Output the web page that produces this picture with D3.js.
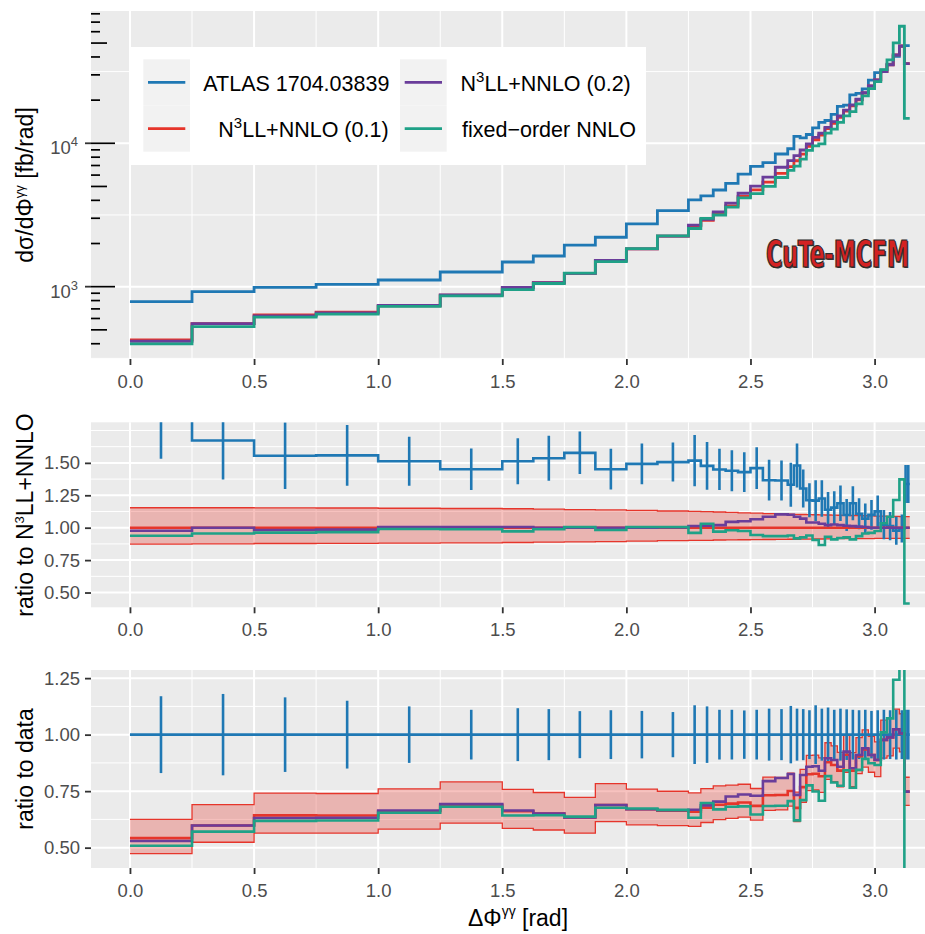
<!DOCTYPE html>
<html>
<head>
<meta charset="utf-8">
<script src="https://cdn.jsdelivr.net/npm/d3@7"></script>
<style>
  body { margin: 0; background: #fff; }
  svg { display: block; font-family: "Liberation Sans", Arial, sans-serif; }
</style>
</head>
<body>
<svg id="chart" width="925" height="934"></svg>
<script>
// Bin edges of the measurement (rad)
const edges = [0, 0.25, 0.5, 0.75, 1.0, 1.25, 1.5, 1.625, 1.75, 1.875, 2.0, 2.125, 2.25,
  2.3, 2.35, 2.4, 2.45, 2.5, 2.55, 2.6, 2.65,
  2.675, 2.7, 2.725, 2.75, 2.775, 2.8, 2.825, 2.85, 2.875, 2.9, 2.925, 2.95, 2.975, 3.0,
  3.025, 3.05, 3.075, 3.1, 3.12, 3.13, 3.1416];

// ATLAS data, fb/rad, and its relative uncertainty
const atlas = [786, 923, 990, 1036, 1113, 1266, 1486, 1636, 1950, 2211, 2737, 3388,
  4024, 4291, 4722, 5259, 6100, 6900, 7320, 8420,
  9160, 11180, 10925, 11520, 12800, 13980, 14420, 15930, 18070, 18440, 21730, 22280,
  23980, 27580, 31130, 32340, 35600, 40330, 47420, 48000, 48000];
const atlasErr = [0.17, 0.18, 0.165, 0.15, 0.125, 0.11, 0.117, 0.113, 0.104, 0.108, 0.105, 0.10,
  0.13, 0.125, 0.11, 0.11, 0.107, 0.11, 0.115, 0.113,
  0.127, 0.115, 0.113, 0.108, 0.13, 0.115, 0.12, 0.11, 0.115, 0.112, 0.11, 0.108,
  0.11, 0.105, 0.108, 0.11, 0.108, 0.11, 0.108, 0.11, 0.11];

// N3LL+NNLO (0.1) divided by data
const n3ll01ToData = [0.542, 0.598, 0.643, 0.642, 0.661, 0.689, 0.661, 0.651, 0.634, 0.689, 0.670, 0.664,
  0.659, 0.677, 0.690, 0.695, 0.700, 0.685, 0.732, 0.733,
  0.751, 0.676, 0.768, 0.825, 0.827, 0.816, 0.878, 0.866, 0.841, 0.911, 0.841, 0.903,
  0.935, 0.910, 0.888, 0.977, 0.988, 1.024, 1.006, 0.748, 0.748];

// other predictions divided by N3LL+NNLO (0.1)
const n3ll02ToN3ll = [0.977, 1.0, 0.982, 0.985, 1.005, 1.005, 1.005, 1.0, 1.0, 1.0, 1.0, 1.002,
  1.013, 1.015, 1.02, 1.045, 1.05, 1.065, 1.085, 1.103,
  1.10, 1.085, 1.07, 1.04, 1.04, 1.03, 1.02, 1.025, 1.02, 1.015, 1.012, 1.008,
  1.005, 1.0, 1.0, 1.0, 1.0, 1.0, 1.0, 1.0, 1.0];
const nnloToN3ll = [0.938, 0.955, 0.962, 0.966, 0.99, 0.988, 0.972, 0.988, 1.005, 0.982, 1.005, 1.005,
  0.96, 1.03, 0.97, 0.98, 0.975, 0.944, 0.935, 0.935,
  0.94, 0.918, 0.925, 0.94, 0.905, 0.867, 0.93, 0.91, 0.92, 0.925, 0.91, 0.935,
  0.955, 0.96, 0.975, 1.034, 1.085, 1.214, 1.373, 0.415, 0.415];

// scale uncertainty band of N3LL+NNLO (0.1), relative
const bandLo = [0.874, 0.876, 0.878, 0.879, 0.881, 0.883, 0.886, 0.888, 0.890, 0.893, 0.897, 0.900,
  0.902, 0.903, 0.905, 0.906, 0.907, 0.908, 0.909, 0.910,
  0.911, 0.911, 0.912, 0.912, 0.913, 0.913, 0.914, 0.914, 0.915, 0.915, 0.915, 0.916,
  0.916, 0.916, 0.917, 0.917, 0.917, 0.918, 0.918, 0.918, 0.918];
const bandHi = [1.154, 1.154, 1.153, 1.152, 1.150, 1.148, 1.146, 1.143, 1.140, 1.137, 1.133, 1.129,
  1.126, 1.124, 1.121, 1.118, 1.115, 1.112, 1.109, 1.106,
  1.104, 1.103, 1.102, 1.101, 1.100, 1.099, 1.098, 1.097, 1.096, 1.095, 1.094, 1.093,
  1.092, 1.091, 1.090, 1.089, 1.088, 1.087, 1.086, 1.085, 1.085];

const xTicks = [0, 0.5, 1.0, 1.5, 2.0, 2.5, 3.0];
const xMinor = [0.25, 0.75, 1.25, 1.75, 2.25, 2.75, 3.25];

const colors = { atlas: "#1f78b4", n3ll01: "#e6352b", n3ll02: "#6a3d9a", nnlo: "#1fa187" };

// derived series for each panel
const n3ll01 = atlas.map((d, i) => d * n3ll01ToData[i]);
const n3ll02 = n3ll01.map((d, i) => d * n3ll02ToN3ll[i]);
const nnlo = n3ll01.map((d, i) => d * nnloToN3ll[i]);
const centers = edges.slice(0, -1).map((e, i) => (e + edges[i + 1]) / 2);

const svg = d3.select("#chart");
const x = d3.scaleLinear().domain([-0.157, 3.299]).range([91, 948.8]);

const stepPoints = vals => vals.flatMap((v, i) => [[edges[i], v], [edges[i + 1], v]]);

// background, grid and clipped group of one panel
function drawPanel(id, y, top, bottom, yMajor, yMinor) {
  const g = svg.append("g");
  g.append("rect").attr("x", 91).attr("y", top).attr("width", 834).attr("height", bottom - top)
    .attr("fill", "#ebebeb");
  yMinor.forEach(v => g.append("line").attr("x1", 91).attr("x2", 925)
    .attr("y1", y(v)).attr("y2", y(v)).attr("stroke", "#fff").attr("stroke-width", 1));
  xMinor.forEach(v => g.append("line").attr("x1", x(v)).attr("x2", x(v))
    .attr("y1", top).attr("y2", bottom).attr("stroke", "#fff").attr("stroke-width", 1));
  yMajor.forEach(v => g.append("line").attr("x1", 91).attr("x2", 925)
    .attr("y1", y(v)).attr("y2", y(v)).attr("stroke", "#fff").attr("stroke-width", 2));
  xTicks.forEach(v => g.append("line").attr("x1", x(v)).attr("x2", x(v))
    .attr("y1", top).attr("y2", bottom).attr("stroke", "#fff").attr("stroke-width", 2));

  svg.append("clipPath").attr("id", "clip-" + id).append("rect")
    .attr("x", 91).attr("y", top).attr("width", 834).attr("height", bottom - top);

  // x axis
  const ax = svg.append("g").attr("transform", `translate(0,${bottom})`)
    .call(d3.axisBottom(x).tickValues(xTicks).tickFormat(d3.format(".1f")).tickSize(6).tickPadding(10));
  ax.select(".domain").remove();
  ax.selectAll("line").attr("stroke", "#333").attr("stroke-width", 1.8);
  ax.selectAll("text").attr("fill", "#4d4d4d").style("font-size", "18.5px")
    .style("font-family", "Liberation Sans, Arial, sans-serif");

  return svg.append("g").attr("clip-path", `url(#clip-${id})`);
}

function styleYAxis(ax) {
  ax.select(".domain").remove();
  ax.selectAll("line").attr("stroke", "#333").attr("stroke-width", 1.8);
  ax.selectAll("text").attr("fill", "#4d4d4d").style("font-size", "18.5px")
    .style("font-family", "Liberation Sans, Arial, sans-serif");
}

function stepLine(g, y, vals, color, width) {
  const line = d3.line().x(d => x(d[0])).y(d => y(d[1]));
  g.append("path").attr("d", line(stepPoints(vals))).attr("fill", "none")
    .attr("stroke", color).attr("stroke-width", width).attr("stroke-linejoin", "miter");
}

function band(g, y, lo, hi) {
  const pts = lo.flatMap((v, i) => [[edges[i], v, hi[i]], [edges[i + 1], v, hi[i]]]);
  g.append("path").attr("d", d3.area().x(d => x(d[0])).y0(d => y(d[1])).y1(d => y(d[2]))(pts))
    .attr("fill", colors.n3ll01).attr("fill-opacity", 0.3);
  stepLine(g, y, lo, colors.n3ll01, 1.3);
  stepLine(g, y, hi, colors.n3ll01, 1.3);
}

function errorBars(g, y, mid, err) {
  g.selectAll(null).data(centers).join("line")
    .attr("x1", d => x(d)).attr("x2", d => x(d))
    .attr("y1", (d, i) => y(mid[i] - err[i])).attr("y2", (d, i) => y(mid[i] + err[i]))
    .attr("stroke", colors.atlas).attr("stroke-width", 2.6);
}

// ---------- top panel: absolute distribution ----------
const yTop = d3.scaleLog().domain([313, 83680]).range([359, 11]);
const gTop = drawPanel("top", yTop, 11, 359, [1e3, 1e4], [Math.pow(10, 2.5), Math.pow(10, 3.5), Math.pow(10, 4.5)]);

stepLine(gTop, yTop, atlas, colors.atlas, 2.8);
stepLine(gTop, yTop, n3ll01, colors.n3ll01, 2.8);
stepLine(gTop, yTop, n3ll02, colors.n3ll02, 2.8);
stepLine(gTop, yTop, nnlo, colors.nnlo, 2.8);

// log ticks drawn inside the panel
[100, 1000, 10000].forEach(p => {
  d3.range(1, 10).forEach(k => {
    const v = k * p;
    const len = k === 1 ? 24 : (k === 5 ? 16 : 9);
    gTop.append("line").attr("x1", 91).attr("x2", 91 + len)
      .attr("y1", yTop(v)).attr("y2", yTop(v)).attr("stroke", "#000").attr("stroke-width", 1.7);
  });
});
[[1e3, "3"], [1e4, "4"]].forEach(([v, e]) => {
  svg.append("line").attr("x1", 85).attr("x2", 91).attr("y1", yTop(v)).attr("y2", yTop(v))
    .attr("stroke", "#333").attr("stroke-width", 1.8);
  const t = svg.append("text").attr("x", 78).attr("y", yTop(v) + 11).attr("text-anchor", "end")
    .attr("fill", "#4d4d4d").style("font-size", "18.5px").text("10");
  t.append("tspan").attr("dy", -8).style("font-size", "13px").text(e);
});

// CuTe-MCFM logo, a narrow bold face stretched upwards
const logo = { x: 766, y: 267 };
[["#3a3a3a", 1.4, null], ["#d42222", 0, "#2b2b2b"]].forEach(([fill, off, stroke]) => {
  const t = svg.append("text")
    .attr("transform", `translate(${logo.x + off},${logo.y + off}) scale(1,1.5)`)
    .style("font-family", "DejaVu Sans Condensed, DejaVu Sans, sans-serif").style("font-weight", "bold")
    .style("font-size", "24.5px").attr("fill", fill).text("CuTe-MCFM");
  if (stroke) t.attr("stroke", stroke).attr("stroke-width", 0.8);
});

// legend
const legend = svg.append("g");
legend.append("rect").attr("x", 130).attr("y", 47).attr("width", 516).attr("height", 118).attr("fill", "#fff");
const legendItems = [
  { color: colors.atlas, kx: 143.3, row: 0, tx: 203.3, parts: ["ATLAS 1704.03839"] },
  { color: colors.n3ll01, kx: 143.3, row: 1, tx: 218.3, parts: ["N", "3", "LL+NNLO (0.1)"] },
  { color: colors.n3ll02, kx: 400, row: 0, tx: 460.5, parts: ["N", "3", "LL+NNLO (0.2)"] },
  { color: colors.nnlo, kx: 400, row: 1, tx: 462, parts: ["fixed\u2212order NNLO"] }
];
legendItems.forEach(d => {
  const ky = 59.3 + d.row * 46.2;
  legend.append("rect").attr("x", d.kx).attr("y", ky).attr("width", 46.7).attr("height", 46.2).attr("fill", "#f2f2f2");
  legend.append("line").attr("x1", d.kx + 4.7).attr("x2", d.kx + 42).attr("y1", ky + 23.1).attr("y2", ky + 23.1)
    .attr("stroke", d.color).attr("stroke-width", 2.6);
  const t = legend.append("text").attr("x", d.tx).attr("y", ky + 31.4).attr("fill", "#000").style("font-size", "21.5px");
  t.append("tspan").text(d.parts[0]);
  if (d.parts.length > 1) {
    t.append("tspan").attr("dy", -9).style("font-size", "15px").text(d.parts[1]);
    t.append("tspan").attr("dy", 9).text(d.parts[2]);
  }
});

// ---------- middle panel: ratio to N3LL+NNLO ----------
const yMid = d3.scaleLinear().domain([0.386, 1.813]).range([607.3, 422.3]);
const gMid = drawPanel("mid", yMid, 422.3, 607.3, [0.5, 0.75, 1.0, 1.25, 1.5], [0.625, 0.875, 1.125, 1.375, 1.625, 1.75]);
const dataToN3ll = n3ll01ToData.map(d => 1 / d);
band(gMid, yMid, bandLo, bandHi);
stepLine(gMid, yMid, dataToN3ll, colors.atlas, 2.6);
errorBars(gMid, yMid, dataToN3ll, atlasErr.map((e, i) => e / n3ll01ToData[i]));
stepLine(gMid, yMid, edges.slice(1).map(() => 1), colors.n3ll01, 2.6);
stepLine(gMid, yMid, n3ll02ToN3ll, colors.n3ll02, 2.6);
stepLine(gMid, yMid, nnloToN3ll, colors.nnlo, 2.6);
styleYAxis(svg.append("g").attr("transform", "translate(91,0)")
  .call(d3.axisLeft(yMid).tickValues([0.5, 0.75, 1.0, 1.25, 1.5]).tickFormat(d3.format(".2f")).tickSize(6).tickPadding(5)));

// ---------- bottom panel: ratio to data ----------
const yBot = d3.scaleLinear().domain([0.41, 1.286]).range([868, 670]);
const gBot = drawPanel("bot", yBot, 670, 868, [0.5, 0.75, 1.0, 1.25], [0.625, 0.875, 1.125]);
const ones = edges.slice(1).map(() => 1);
band(gBot, yBot, n3ll01ToData.map((d, i) => d * bandLo[i]), n3ll01ToData.map((d, i) => d * bandHi[i]));
stepLine(gBot, yBot, ones, colors.atlas, 2.6);
errorBars(gBot, yBot, ones, atlasErr);
stepLine(gBot, yBot, n3ll01ToData, colors.n3ll01, 2.6);
stepLine(gBot, yBot, n3ll01ToData.map((d, i) => d * n3ll02ToN3ll[i]), colors.n3ll02, 2.6);
stepLine(gBot, yBot, n3ll01ToData.map((d, i) => d * nnloToN3ll[i]), colors.nnlo, 2.6);
styleYAxis(svg.append("g").attr("transform", "translate(91,0)")
  .call(d3.axisLeft(yBot).tickValues([0.5, 0.75, 1.0, 1.25]).tickFormat(d3.format(".2f")).tickSize(6).tickPadding(5)));

// ---------- axis titles ----------
function yTitle(cy, parts) {
  const t = svg.append("text").attr("transform", `translate(33,${cy}) rotate(-90)`)
    .attr("text-anchor", "middle").attr("fill", "#000").style("font-size", "23px");
  parts.forEach(p => {
    const s = t.append("tspan").text(p.text);
    if (p.sup) s.attr("dy", -9).style("font-size", "13px");
    if (p.down) s.attr("dy", 9);
  });
}
yTitle(185, [{ text: "d\u03C3/d\u03A6" }, { text: "\u03B3\u03B3", sup: true }, { text: " [fb/rad]", down: true }]);
yTitle(515, [{ text: "ratio to N" }, { text: "3", sup: true }, { text: "LL+NNLO", down: true }]);
yTitle(769, [{ text: "ratio to data" }]);

const xt = svg.append("text").attr("x", 518).attr("y", 926).attr("text-anchor", "middle")
  .attr("fill", "#000").style("font-size", "23px");
xt.append("tspan").text("\u0394\u03A6");
xt.append("tspan").attr("dy", -10).style("font-size", "14px").text("\u03B3\u03B3");
xt.append("tspan").attr("dy", 10).text(" [rad]");
</script>
</body>
</html>
